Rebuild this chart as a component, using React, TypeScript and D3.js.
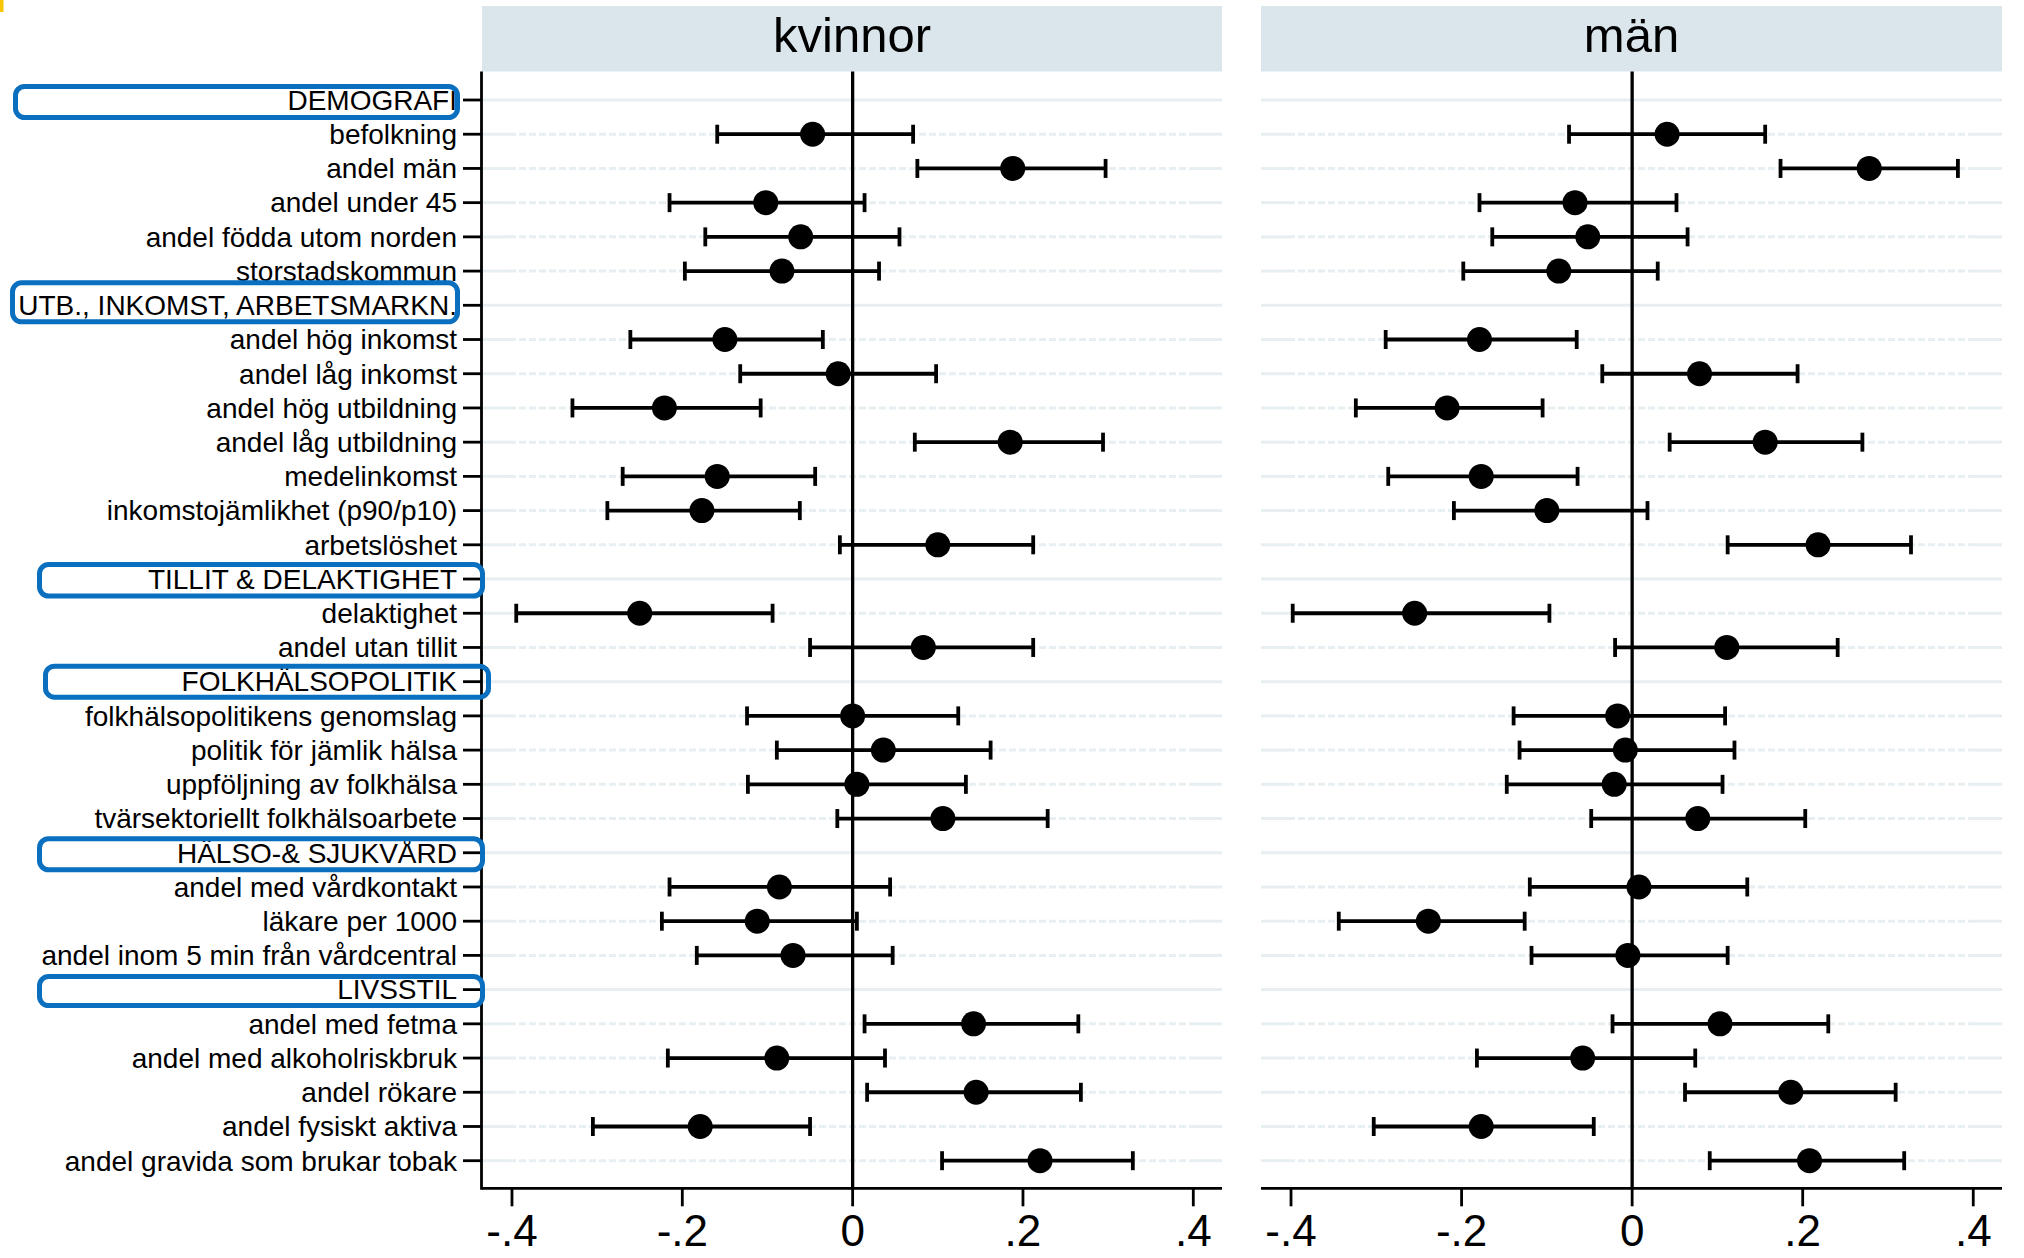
import React from "react";
import * as d3 from "d3";

// ---------- DATA ----------
const rowLabels: string[] = [
  "DEMOGRAFI",
  "befolkning",
  "andel män",
  "andel under 45",
  "andel födda utom norden",
  "storstadskommun",
  "UTB., INKOMST, ARBETSMARKN.",
  "andel hög inkomst",
  "andel låg inkomst",
  "andel hög utbildning",
  "andel låg utbildning",
  "medelinkomst",
  "inkomstojämlikhet (p90/p10)",
  "arbetslöshet",
  "TILLIT & DELAKTIGHET",
  "delaktighet",
  "andel utan tillit",
  "FOLKHÄLSOPOLITIK",
  "folkhälsopolitikens genomslag",
  "politik för jämlik hälsa",
  "uppföljning av folkhälsa",
  "tvärsektoriellt folkhälsoarbete",
  "HÄLSO-& SJUKVÅRD",
  "andel med vårdkontakt",
  "läkare per 1000",
  "andel inom 5 min från vårdcentral",
  "LIVSSTIL",
  "andel med fetma",
  "andel med alkoholriskbruk",
  "andel rökare",
  "andel fysiskt aktiva",
  "andel gravida som brukar tobak",
];

const sectionLabels: string[] = [
  "DEMOGRAFI",
  "UTB., INKOMST, ARBETSMARKN.",
  "TILLIT & DELAKTIGHET",
  "FOLKHÄLSOPOLITIK",
  "HÄLSO-& SJUKVÅRD",
  "LIVSSTIL",
];

const panelNames: string[] = ["kvinnor", "män"];

// item order = rowLabels without the section rows
const kvinnorEst = [-0.047, 0.188, -0.102, -0.061, -0.083, -0.15, -0.017, -0.221, 0.185, -0.159, -0.177, 0.1, -0.25, 0.083, 0.0, 0.036, 0.005, 0.106, -0.086, -0.112, -0.07, 0.142, -0.089, 0.145, -0.179, 0.22];
const kvinnorLo = [-0.159, 0.076, -0.215, -0.173, -0.197, -0.261, -0.132, -0.329, 0.073, -0.27, -0.288, -0.015, -0.395, -0.05, -0.124, -0.089, -0.123, -0.018, -0.215, -0.224, -0.183, 0.014, -0.217, 0.017, -0.305, 0.105];
const kvinnorHi = [0.071, 0.297, 0.014, 0.055, 0.031, -0.035, 0.098, -0.108, 0.294, -0.044, -0.062, 0.212, -0.094, 0.212, 0.124, 0.162, 0.133, 0.229, 0.044, 0.005, 0.047, 0.265, 0.038, 0.268, -0.05, 0.329];

const manEst = [0.041, 0.278, -0.067, -0.052, -0.086, -0.179, 0.079, -0.217, 0.156, -0.177, -0.1, 0.218, -0.255, 0.111, -0.017, -0.008, -0.021, 0.077, 0.008, -0.239, -0.005, 0.103, -0.058, 0.186, -0.177, 0.208];
const manLo = [-0.074, 0.174, -0.179, -0.164, -0.198, -0.289, -0.035, -0.324, 0.044, -0.286, -0.209, 0.112, -0.398, -0.02, -0.139, -0.132, -0.147, -0.048, -0.12, -0.344, -0.118, -0.023, -0.182, 0.062, -0.303, 0.091];
const manHi = [0.156, 0.382, 0.052, 0.065, 0.03, -0.065, 0.194, -0.105, 0.27, -0.064, 0.018, 0.327, -0.097, 0.241, 0.109, 0.12, 0.106, 0.203, 0.135, -0.126, 0.112, 0.23, 0.074, 0.309, -0.045, 0.319];

const xTicks = [-0.4, -0.2, 0, 0.2, 0.4];
const xTickLabels = ["-.4", "-.2", "0", ".2", ".4"];

// ---------- LAYOUT / STYLE ----------
const W = 2024;
const H = 1258;
const FONT = "'Liberation Sans', Arial, Helvetica, sans-serif";
const headerTop = 6;
const plotTop = 71.5;
const plotBottom = 1188.3;
const firstRowY = 100;
const lastRowY = 1160.7;
const panels = [
  { x0: 482, x1: 1222 },
  { x0: 1261, x1: 2002 },
];
const xDomain: [number, number] = [-0.4352, 0.4337];
const gridColor = "#e7eff2";
const headerColor = "#dae5ec";
const boxColor = "#0a6fbf";
const barWidth = 3.8;

// highlight boxes around section labels (annotation layout)
const boxLayout: Record<string, { x0: number; x1: number; top: number; bottom: number }> = {
  "DEMOGRAFI": { x0: 13, x1: 460, top: -16, bottom: 20 },
  "UTB., INKOMST, ARBETSMARKN.": { x0: 10, x1: 460, top: -25, bottom: 19 },
  "TILLIT & DELAKTIGHET": { x0: 37, x1: 485, top: -17, bottom: 19.5 },
  "FOLKHÄLSOPOLITIK": { x0: 43, x1: 491, top: -18, bottom: 18 },
  "HÄLSO-& SJUKVÅRD": { x0: 37, x1: 485, top: -16.5, bottom: 19.5 },
  "LIVSSTIL": { x0: 37, x1: 485, top: -15.5, bottom: 18.5 },
};

export default function App() {
  const y = d3.scalePoint<string>().domain(rowLabels).range([firstRowY, lastRowY]);
  const itemLabels = rowLabels.filter((l) => !sectionLabels.includes(l));
  const series = [
    { est: kvinnorEst, lo: kvinnorLo, hi: kvinnorHi },
    { est: manEst, lo: manLo, hi: manHi },
  ];
  const axisX = panels[0].x0 - 0.5;
  const endSolid = 27;

  return (
    <div style={{ position: "fixed", left: 0, top: 0, width: W, height: H, overflow: "hidden", background: "#fff" }}>
      <svg width={W} height={H} viewBox={`0 0 ${W} ${H}`} style={{ display: "block" }} fontFamily={FONT}>
        <rect x={0} y={0} width={W} height={H} fill="#fff" />
        {/* yellow slide marker */}
        <rect x={0} y={0} width={3.5} height={12} fill="#f6c600" />

        {panels.map((p, pi) => {
          const x = d3.scaleLinear().domain(xDomain).range([p.x0, p.x1]);
          const s = series[pi];
          return (
            <g key={pi}>
              {/* header strip */}
              <rect x={p.x0} y={headerTop} width={p.x1 - p.x0} height={plotTop - headerTop} fill={headerColor} />
              <text x={(p.x0 + p.x1) / 2} y={52} textAnchor="middle" fontSize={49} fill="#000">
                {panelNames[pi]}
              </text>

              {/* gridlines */}
              {rowLabels.map((lab) => {
                const yy = y(lab)!;
                const isSec = sectionLabels.includes(lab);
                if (isSec)
                  return <line key={lab} x1={p.x0} x2={p.x1} y1={yy} y2={yy} stroke={gridColor} strokeWidth={3} />;
                return (
                  <g key={lab}>
                    <line x1={p.x0} x2={p.x0 + endSolid} y1={yy} y2={yy} stroke={gridColor} strokeWidth={3} />
                    <line x1={p.x0 + endSolid} x2={p.x1 - endSolid} y1={yy} y2={yy} stroke={gridColor} strokeWidth={3} strokeDasharray="7 3" />
                    <line x1={p.x1 - endSolid} x2={p.x1} y1={yy} y2={yy} stroke={gridColor} strokeWidth={3} />
                  </g>
                );
              })}

              {/* zero line */}
              <line x1={x(0)} x2={x(0)} y1={plotTop} y2={plotBottom} stroke="#000" strokeWidth={3.3} />

              {/* error bars and points */}
              {itemLabels.map((lab, i) => {
                const yy = y(lab)!;
                const xl = x(s.lo[i]);
                const xh = x(s.hi[i]);
                return (
                  <g key={lab}>
                    <line x1={xl} x2={xh} y1={yy} y2={yy} stroke="#000" strokeWidth={barWidth} />
                    <line x1={xl} x2={xl} y1={yy - 9.5} y2={yy + 9.5} stroke="#000" strokeWidth={barWidth} />
                    <line x1={xh} x2={xh} y1={yy - 9.5} y2={yy + 9.5} stroke="#000" strokeWidth={barWidth} />
                    <circle cx={x(s.est[i])} cy={yy} r={12.5} fill="#000" />
                  </g>
                );
              })}

              {/* x axis */}
              <line x1={p.x0} x2={p.x1} y1={plotBottom} y2={plotBottom} stroke="#000" strokeWidth={2.8} />
              {xTicks.map((t, ti) => (
                <g key={ti}>
                  <line x1={x(t)} x2={x(t)} y1={plotBottom} y2={plotBottom + 18} stroke="#000" strokeWidth={2.8} />
                  <text x={x(t)} y={1246} textAnchor="middle" fontSize={44} fill="#000">
                    {xTickLabels[ti]}
                  </text>
                </g>
              ))}
            </g>
          );
        })}

        {/* y axis (left panel only) */}
        <line x1={axisX} x2={axisX} y1={plotTop} y2={plotBottom + 1.4} stroke="#000" strokeWidth={2.8} />
        {rowLabels.map((lab) => {
          const yy = y(lab)!;
          return (
            <g key={lab}>
              <line x1={463} x2={axisX} y1={yy} y2={yy} stroke="#000" strokeWidth={2.8} />
              <text x={457} y={yy} dy="0.35em" textAnchor="end" fontSize={28} fill="#000">
                {lab}
              </text>
            </g>
          );
        })}

        {/* section highlight boxes */}
        {sectionLabels.map((lab) => {
          const b = boxLayout[lab];
          const yy = y(lab)!;
          return (
            <rect
              key={lab}
              x={b.x0 + 2.5}
              y={yy + b.top + 2.5}
              width={b.x1 - b.x0 - 5}
              height={b.bottom - b.top - 5}
              rx={9}
              ry={9}
              fill="none"
              stroke={boxColor}
              strokeWidth={5}
            />
          );
        })}
      </svg>
    </div>
  );
}
